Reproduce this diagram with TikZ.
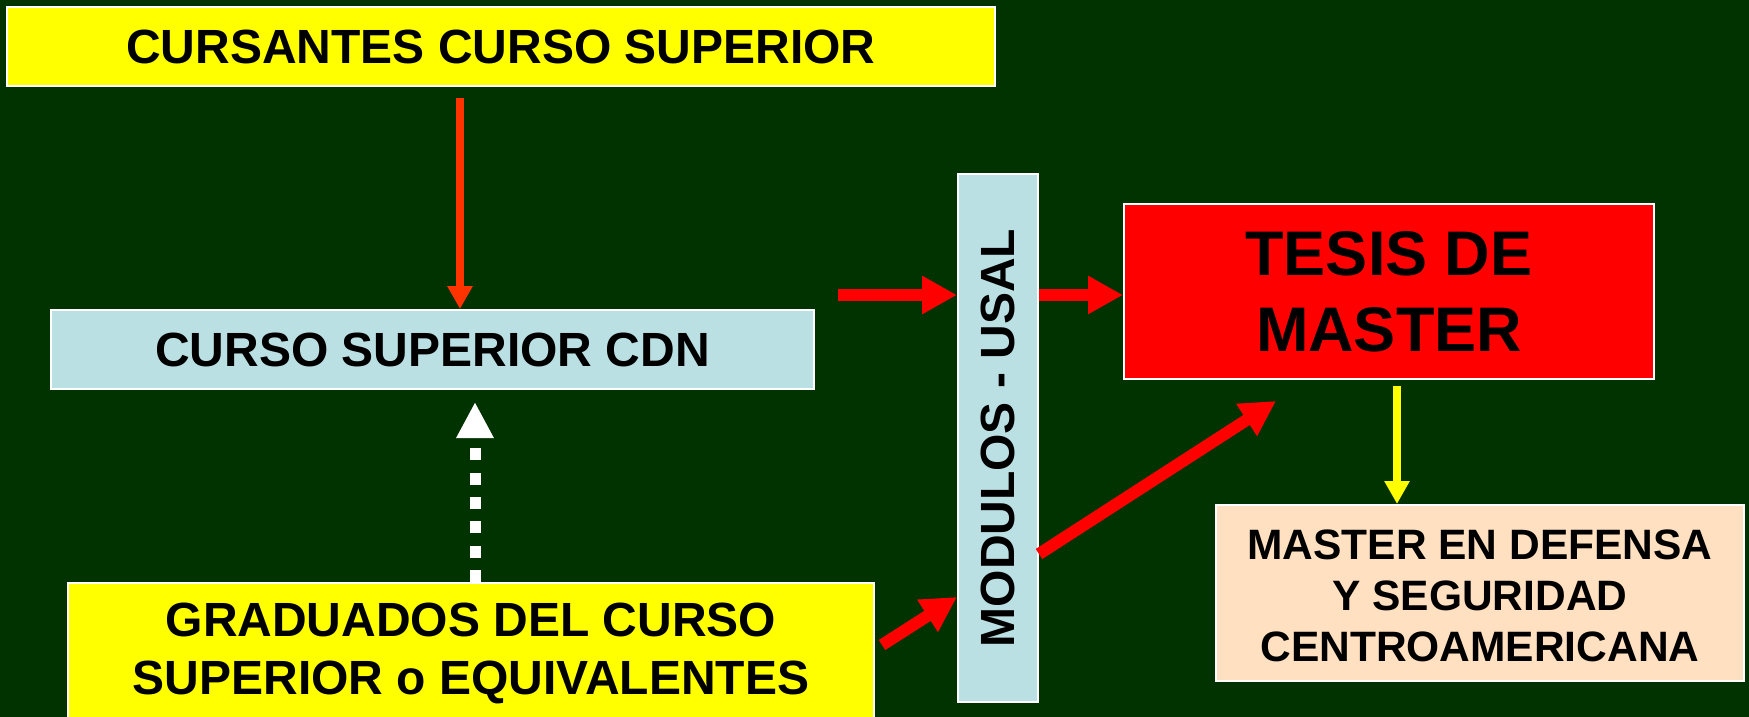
\documentclass[tikz,border=0pt]{standalone}
\usepackage{fontspec}
\usepackage{graphicx}
\setmainfont{Liberation Sans}
\usetikzlibrary{arrows.meta}
\definecolor{bg}{RGB}{0,51,0}
\definecolor{ltblue}{RGB}{187,224,227}
\definecolor{beige}{RGB}{255,224,192}
\definecolor{orred}{RGB}{255,51,0}
\definecolor{yel}{RGB}{255,255,0}
\definecolor{rd}{RGB}{255,0,0}
\begin{document}
\begin{tikzpicture}[x=1pt,y=-1pt,
  box/.style={draw=white, line width=2pt, inner sep=0pt, align=center,
    font=\bfseries\fontsize{48}{58}\selectfont},
  bigarrow/.style={rd, line width=12pt, -{Triangle[length=35pt,width=36pt]}},
  thinarrow/.style={line width=7.5pt, -{Triangle[length=23pt,width=24pt]}},
  dasharrow/.style={white, line width=11pt, dash pattern=on 12pt off 12.33pt,
    -{Triangle[length=36pt,width=35pt]}}
]
\fill[bg] (0,0) rectangle (1749,717);
\useasboundingbox (0,0) rectangle (1749,717);

\node[box, fill=yel, minimum width=988pt, minimum height=79pt] (top) at (501,46.5) {CURSANTES CURSO SUPERIOR};
\node[box, fill=ltblue, minimum width=763pt, minimum height=79pt] (cdn) at (432.5,349.5) {CURSO SUPERIOR CDN};
\node[box, fill=yel, minimum width=806pt, minimum height=141pt] (grad) at (471,653.5) {GRADUADOS DEL CURSO\\SUPERIOR o EQUIVALENTES};
\node[box, fill=ltblue, minimum width=80pt, minimum height=528pt] (mod) at (998,438) {\rotatebox{90}{MODULOS - USAL}};
\node[box, fill=rd, minimum width=530pt, minimum height=175pt, font=\bfseries\fontsize{63}{76}\selectfont] (tesis) at (1389,291.5) {TESIS DE\\MASTER};
\node[box, fill=beige, minimum width=528pt, minimum height=176pt, font=\bfseries\fontsize{42.5}{51}\selectfont] (master) at (1480,593) {\rule{0pt}{36pt}MASTER EN DEFENSA\\Y SEGURIDAD\\CENTROAMERICANA};

\coordinate (a1) at (838,295);
\coordinate (a3) at (1276,401);
\coordinate (d0) at (0,554);
\coordinate (a4) at (882,645);
\coordinate (d5) at (0,597);
\coordinate (xt) at (460,98);
\coordinate (xw) at (475,402);
\coordinate (xy) at (1397,386);

\draw[thinarrow, orred] (xt) -- (cdn.north -| xt);
\draw[bigarrow] (a1) -- (mod.west |- a1);
\draw[bigarrow] (mod.east |- a1) -- (tesis.west |- a1);
\draw[bigarrow] (mod.east |- d0) -- (a3);
\draw[bigarrow] (a4) -- (mod.west |- d5);
\draw[thinarrow, yel] (xy) -- (master.north -| xy);
\draw[dasharrow] (grad.north -| xw) -- (xw);
\end{tikzpicture}
\end{document}
